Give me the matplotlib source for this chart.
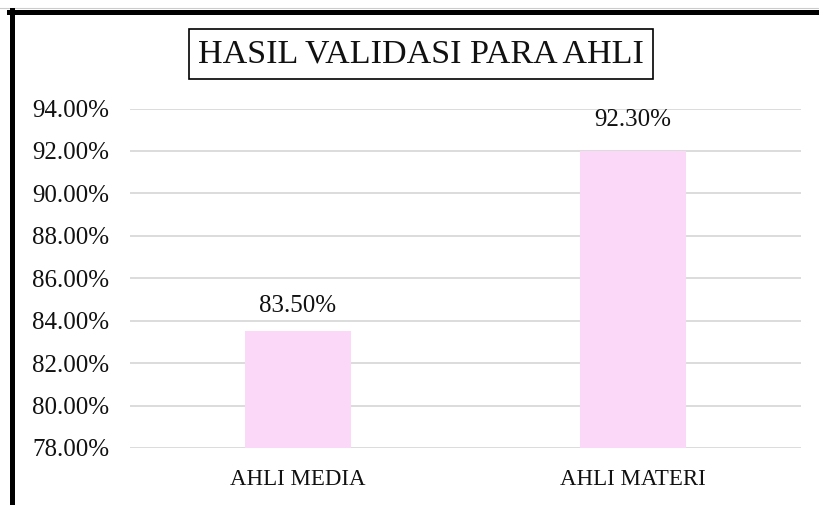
import matplotlib
matplotlib.use('Agg')
import matplotlib.pyplot as plt
from matplotlib.lines import Line2D
from matplotlib.ticker import PercentFormatter

plt.rcParams['font.family'] = ['Liberation Serif', 'DejaVu Serif']

categories = ['AHLI MEDIA', 'AHLI MATERI']
bar_values = [0.835, 0.92]
label_values = [0.835, 0.923]
label_texts = ['83.50%', '92.30%']
y_ticks = [0.78, 0.80, 0.82, 0.84, 0.86, 0.88, 0.90, 0.92, 0.94]
title = 'HASIL VALIDASI PARA AHLI'

fig = plt.figure(figsize=(8.19, 5.05), dpi=100)
ax = fig.add_axes([0.1587, 0.1129, 0.978 - 0.1587, 0.7851 - 0.1129])

x = range(len(categories))
ax.bar(x, bar_values, width=0.316, color='#FBD7F8', zorder=2)
for xi, v, t in zip(x, label_values, label_texts):
    ax.annotate(t, (xi, v), xytext=(0, 10), textcoords='offset points',
                ha='center', va='bottom', fontsize=18, color='#111111')

ax.set_xlim(-0.5, 1.5)
ax.set_ylim(0.78, 0.94)
ax.set_yticks(y_ticks)
ax.yaxis.set_major_formatter(PercentFormatter(1.0, decimals=2))
ax.set_xticks(list(x))
ax.set_xticklabels(categories)
ax.tick_params(axis='both', length=0, colors='#111111')
ax.tick_params(axis='y', pad=15, labelsize=18)
ax.tick_params(axis='x', pad=15, labelsize=16.5)
ax.grid(axis='y', color='#D9D9D9', linewidth=1.3, zorder=0)
ax.set_axisbelow(True)
for s in ax.spines.values():
    s.set_visible(False)

fig.text(421 / 819, 1 - 54 / 505, title, ha='center', va='center', fontsize=24.5,
         color='#111111',
         bbox=dict(boxstyle='square,pad=0.28', facecolor='white', edgecolor='black', linewidth=1.2))

# outer frame (only left and top visible in the crop)
fig.add_artist(Line2D([0, 1.0], [1 - 7.5 / 505, 1 - 7.5 / 505], color='#CCCCCC', linewidth=0.8,
                      transform=fig.transFigure))
fig.add_artist(Line2D([9 / 819, 1.0], [1 - 11.5 / 505, 1 - 11.5 / 505], color='black', linewidth=3.6,
                      transform=fig.transFigure))
fig.add_artist(Line2D([11.5 / 819, 11.5 / 819], [0, 1 - 9.5 / 505], color='black', linewidth=3.6,
                      transform=fig.transFigure))

fig.savefig('out.png', dpi=100)
